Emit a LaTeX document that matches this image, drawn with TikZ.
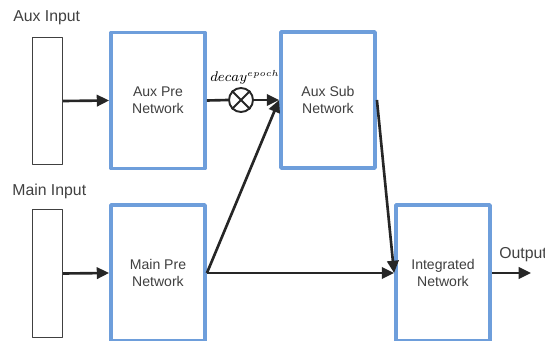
\documentclass[tikz,border=0pt]{standalone}
\usepackage{fontspec}
\setmainfont{Liberation Sans}
\usetikzlibrary{arrows.meta}
\begin{document}
\begin{tikzpicture}[x=0.02cm,y=-0.02cm,line join=round,font=\fontsize{8}{9.5}\selectfont]
        \definecolor{net_blue}{rgb}{0.43, 0.62, 0.86}
        \definecolor{dark_gray}{rgb}{0.15, 0.15, 0.15}
        \definecolor{text_gray}{rgb}{0.25, 0.25, 0.25}
        \tikzset{
                net_box/.style={draw=net_blue,line width=2.2pt,fill=white,text=text_gray,
                        minimum width=1.88cm,minimum height=2.72cm,align=center,inner sep=0pt},
                in_box/.style={draw=text_gray,line width=0.6pt,minimum width=0.6cm,minimum height=2.55cm,inner sep=0pt},
                lbl/.style={text=text_gray,inner sep=0pt,font=\fontsize{9}{10}\selectfont},
                math_lbl/.style={text=black,inner sep=0pt,font=\fontsize{7.6}{9}\selectfont},
                flow/.style={draw=dark_gray,line width=1.5pt,-{Triangle[length=7pt,width=6.5pt]}}
        }
        \useasboundingbox (0,0) rectangle (545,341);
        % inputs
        \node[in_box] (aux_in) at (47.5,101) {};
        \node[in_box] (main_in) at (47.5,273.5) {};
        \node[lbl,anchor=west] (aux_lbl) at (13,18) {Aux Input};
        \node[lbl,anchor=west] (main_lbl) at (12,191) {Main Input};
        % networks
        \node[net_box] (aux_pre) at (158,100.5) {Aux Pre\\Network};
        \node[net_box] (aux_sub) at (328,100) {Aux Sub\\Network};
        \node[net_box] (main_pre) at (158,273) {Main Pre\\Network};
        \node[net_box] (integ) at (443,273) {Integrated\\Network};
        % decay
        \node[draw=dark_gray,line width=1.1pt,circle,minimum size=0.48cm,inner sep=0pt] (mult) at (241,100) {};
        \draw[dark_gray,line width=1.1pt] (mult.45) -- (mult.225) (mult.135) -- (mult.315);
        \node[math_lbl] (decay) at (245,77) {$decay^{epoch}$};
        \coordinate (out_end) at (531,273);
        \node[lbl,anchor=west] (out_lbl) at (499,255) {Output};
        % connectors
        \draw[flow] (aux_in.east) -- (aux_pre.west);
        \draw[draw=dark_gray,line width=1.5pt] (aux_pre.east) -- (mult.west);
        \draw[flow] (mult.east) -- (aux_sub.west);
        \draw[flow] (main_in.east) -- (main_pre.west);
        \draw[flow] (main_pre.east) -- (aux_sub.west);
        \draw[flow] (main_pre.east) -- (integ.west);
        \draw[flow] (aux_sub.east) -- (integ.west);
        \draw[flow] (integ.east) -- (out_end);
\end{tikzpicture}
\end{document}
